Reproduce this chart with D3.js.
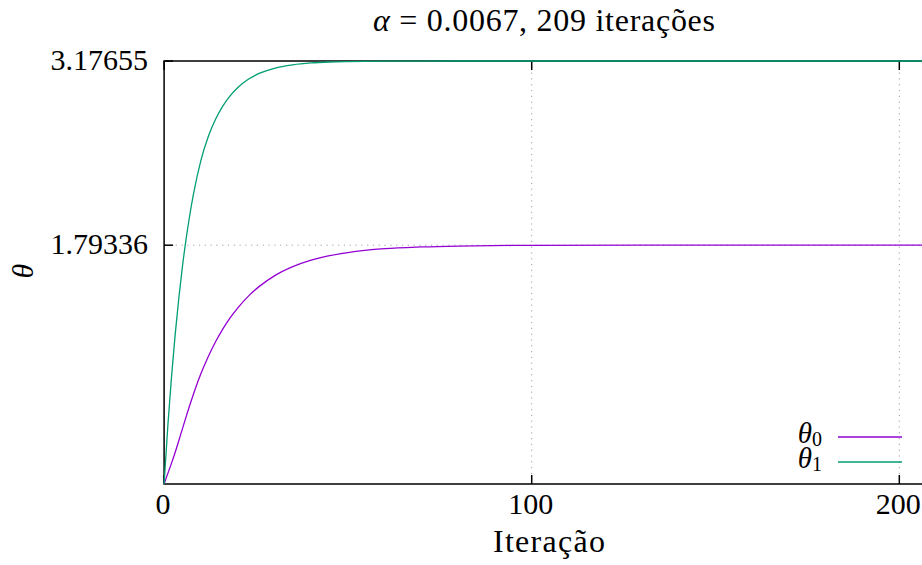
<!DOCTYPE html>
<html>
<head>
<meta charset="utf-8">
<script src="https://cdn.jsdelivr.net/npm/d3@7"></script>
<style>
  html, body { margin: 0; padding: 0; background: #fff; }
  svg { display: block; }
</style>
</head>
<body>
<svg id="chart" width="922" height="565" font-family="'Liberation Serif', 'DejaVu Serif', serif"></svg>
<script>
// ---- data ----
const iterations = [0,1,2,3,4,5,6,7,8,10,12,14,16,18,20,23,26,30,35,40,45,50,60,70,80,100,130,160,209];
const theta0 = [0,0.078,0.155,0.237,0.325,0.416,0.506,0.593,0.676,0.828,0.956,1.068,1.165,1.249,1.321,1.413,1.486,1.563,1.632,1.681,1.715,1.738,1.767,1.780,1.787,1.792,1.7932,1.79335,1.79336];
const theta1 = [0,0.430,0.799,1.118,1.395,1.636,1.842,2.022,2.178,2.429,2.608,2.739,2.839,2.917,2.976,3.041,3.085,3.122,3.148,3.162,3.169,3.1725,3.1755,3.1763,3.1765,3.17655,3.17655,3.17655,3.17655];
const xTicks = [0, 100, 200];
const yTicks = [1.79336, 3.17655];
const yTickLabels = ["1.79336", "3.17655"];
const xDomain = [0, 209];
const yDomain = [0, 3.17655];
const seriesNames = ["0", "1"];
const seriesColors = ["#9400d3", "#009e73"];

(function () {
// ---- layout ----
const pLeft = 164.1, pRight = 932.4, pTop = 61, pBottom = 484;
const fs = 30;
const ff = "Liberation Serif";

const svg = d3.select("#chart");
const x = d3.scaleLinear().domain(xDomain).range([pLeft, pRight]);
const y = d3.scaleLinear().domain(yDomain).range([pBottom, pTop]);

// grid
const grid = svg.append("g").attr("stroke", "#a0a0a0").attr("stroke-width", 1)
  .attr("stroke-dasharray", "1.2,4.6").attr("fill", "none");
xTicks.filter(d => d > 0).forEach(d => {
  grid.append("line").attr("x1", x(d)).attr("x2", x(d)).attr("y1", pTop).attr("y2", pBottom);
});
yTicks.filter(d => d < yDomain[1]).forEach(d => {
  grid.append("line").attr("x1", pLeft).attr("x2", pRight).attr("y1", y(d)).attr("y2", y(d));
});

// border
const border = svg.append("g").attr("stroke", "#000").attr("stroke-width", 1.5).attr("fill", "none");
border.append("path").attr("d", `M${pRight},${pTop}H${pLeft}V${pBottom}H${pRight}`);

// ticks (inward, mirrored)
const tl = 9;
xTicks.forEach(d => {
  border.append("line").attr("x1", x(d)).attr("x2", x(d)).attr("y1", pBottom).attr("y2", pBottom - tl);
  border.append("line").attr("x1", x(d)).attr("x2", x(d)).attr("y1", pTop).attr("y2", pTop + tl);
});
yTicks.forEach(d => {
  border.append("line").attr("x1", pLeft).attr("x2", pLeft + tl).attr("y1", y(d)).attr("y2", y(d));
});

const txt = (sel) => sel.append("text").attr("font-family", ff).attr("fill", "#000").attr("font-size", fs);

// tick labels
xTicks.forEach(d => {
  txt(svg).attr("x", x(d) - 1).attr("y", 514).attr("text-anchor", "middle").text(d3.format("d")(d));
});
yTicks.forEach((d, i) => {
  txt(svg).attr("x", 148).attr("y", y(d) + 9).attr("text-anchor", "end").text(yTickLabels[i]);
});

// axis titles
txt(svg).attr("x", 549).attr("y", 552).attr("text-anchor", "middle").attr("font-size", 32)
  .attr("textLength", 112).attr("lengthAdjust", "spacing").text("Iteração");
txt(svg).attr("transform", "translate(33,271) rotate(-90)")
  .attr("text-anchor", "middle").attr("font-style", "italic").text("θ");

// title
const title = txt(svg).attr("x", 544).attr("y", 31).attr("text-anchor", "middle").attr("font-size", 32)
  .attr("textLength", 342).attr("lengthAdjust", "spacing");
title.append("tspan").attr("font-style", "italic").text("α");
title.append("tspan").text(" = 0.0067, 209 iterações");

// curves
const line = d3.line().x((d, i) => x(iterations[i])).y(d => y(d)).curve(d3.curveMonotoneX);
[theta0, theta1].forEach((s, k) => {
  svg.append("path").datum(s).attr("d", line).attr("fill", "none")
    .attr("stroke", seriesColors[k]).attr("stroke-width", 1.3);
});

// legend
const legY = [437, 462];
seriesNames.forEach((n, k) => {
  svg.append("line").attr("x1", 838).attr("x2", 902).attr("y1", legY[k]).attr("y2", legY[k])
    .attr("stroke", seriesColors[k]).attr("stroke-width", 1.3);
  const t = txt(svg).attr("x", 822).attr("y", legY[k] + 6).attr("text-anchor", "end").attr("font-size", 29);
  t.append("tspan").attr("font-style", "italic").text("θ");
  t.append("tspan").attr("font-size", 20).attr("dy", 3).text(n);
});
})();
</script>
</body>
</html>
